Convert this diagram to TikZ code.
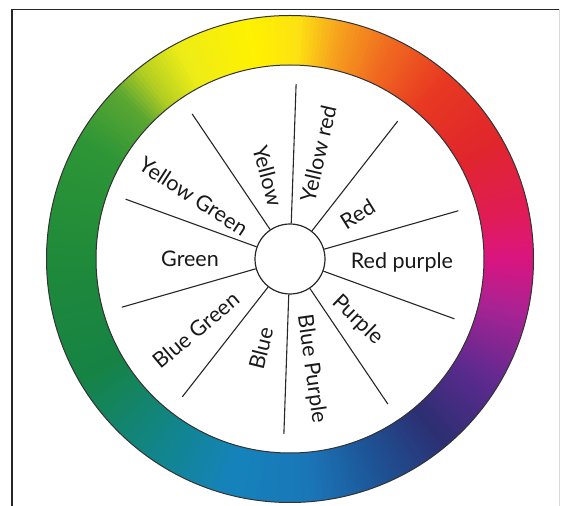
\documentclass[tikz,border=0pt]{standalone}
\usepackage{fontspec}
\setmainfont{Lato}
\definecolor{g0}{HTML}{1F8A3A}
\definecolor{g1}{HTML}{168344}
\definecolor{g2}{HTML}{11858A}
\definecolor{g3}{HTML}{1583BB}
\definecolor{g4}{HTML}{1A76B8}
\definecolor{g5}{HTML}{1D5496}
\definecolor{g6}{HTML}{2C2F72}
\definecolor{g7}{HTML}{5C2A8E}
\definecolor{g8}{HTML}{A62394}
\definecolor{g9}{HTML}{DA1580}
\definecolor{g10}{HTML}{E01C55}
\definecolor{g11}{HTML}{E0262B}
\definecolor{g12}{HTML}{E83A22}
\definecolor{g13}{HTML}{F06A20}
\definecolor{g14}{HTML}{F6A21E}
\definecolor{g15}{HTML}{FDE212}
\definecolor{g16}{HTML}{FFF200}
\definecolor{g17}{HTML}{EDEC18}
\definecolor{g18}{HTML}{B5CF22}
\definecolor{g19}{HTML}{5AA632}
\definecolor{g20}{HTML}{2E9636}
\definecolor{g21}{HTML}{1F8A3A}
\def\ri{194pt}
\def\ro{243.5pt}
\newcommand\ringseg[4]{%
  \pgfmathtruncatemacro\nn{#2-#1-1}%
  \foreach \tt in {0,...,\nn}{%
    \pgfmathtruncatemacro\pp{100*(\tt+0.5)/(#2-#1)}%
    \pgfmathsetmacro\aa{#1+\tt}%
    \pgfmathsetmacro\bb{#1+\tt+1.3}%
    \fill[#4!\pp!#3] (\aa:\ri) arc[start angle=\aa, end angle=\bb, radius=\ri] -- (\bb:\ro) arc[start angle=\bb, end angle=\aa, radius=\ro] -- cycle;
  }%
}
\tikzset{
  spoke/.style={line width=1.1pt, black!85},
  lab/.style={font=\fontsize{21.5}{23}\selectfont, text=black!90, inner sep=0pt},
  rim/.style={line width=1pt, black!80}
}
\begin{document}
\begin{tikzpicture}[x=1pt,y=1pt]
\useasboundingbox (0,0) rectangle (563,506);
\draw[line width=1.3pt, black!85] (12,0) -- (12,496.5) -- (560,496.5);
\draw[line width=0.6pt, black!15] (559.5,496.5) -- (559.5,0);
\begin{scope}[shift={(290,247)}]
  \foreach \a/\b/\c/\d in {-180/-150/g0/g1, -150/-125/g1/g2, -125/-105/g2/g3, -105/-85/g3/g4, -85/-68/g4/g5, -68/-50/g5/g6, -50/-32/g6/g7, -32/-14/g7/g8, -14/0/g8/g9, 0/12/g9/g10, 12/30/g10/g11, 30/50/g11/g12, 50/65/g12/g13, 65/78/g13/g14, 78/88/g14/g15, 88/100/g15/g16, 100/118/g16/g17, 118/128/g17/g18, 128/136/g18/g19, 136/150/g19/g20, 150/180/g20/g21}{%
    \ringseg{\a}{\b}{\c}{\d}
  }
  \draw[rim] (0,0) circle[radius=\ro];
  \draw[rim] (0,0) circle[radius=\ri];
  \node[circle, draw=black!85, fill=white, line width=1.2pt, minimum size=70pt, inner sep=0pt] (hub) at (0,0) {};
  \foreach \k in {0,...,9}{
    \pgfmathtruncatemacro\ang{16+36*\k}
    \coordinate (e\k) at (\ang:175pt);
    \draw[spoke] (hub.\ang) -- (e\k);
  }
  \node[lab, rotate=77] (yr) at (75:109pt) {Yellow red};
  \node[lab, rotate=-75] (ye) at (105:86pt) {Yellow};
  \node[lab, rotate=-33] (yg) at (147:115pt) {Yellow Green};
  \node[lab] (gr) at (180:100pt) {Green};
  \node[lab, rotate=40] (bg) at (217:118pt) {Blue Green};
  \node[lab, rotate=76] (bl) at (252:94pt) {Blue};
  \node[lab, rotate=-82] (bp) at (-79:112pt) {Blue Purple};
  \node[lab, rotate=-44] (pu) at (-42:91pt) {Purple};
  \node[lab] (rp) at (-1.5:112pt) {Red purple};
  \node[lab, rotate=32] (re) at (33.5:81pt) {Red};
\end{scope}
\end{tikzpicture}
\end{document}
